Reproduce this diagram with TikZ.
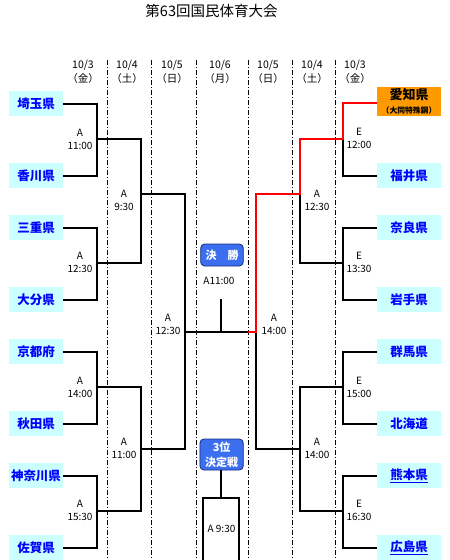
\documentclass[tikz,border=0pt]{standalone}
\usepackage{fontspec}
\setmainfont{Noto Sans CJK JP}
\definecolor{teamcyan}{RGB}{204,255,255}
\definecolor{teamblue}{RGB}{0,0,255}
\definecolor{hostorange}{RGB}{255,153,0}
\definecolor{btnblue}{RGB}{60,110,240}
\definecolor{btnedge}{RGB}{25,45,120}
\definecolor{winred}{RGB}{255,0,0}
\tikzset{
  team/.style={fill=teamcyan, text=teamblue, inner sep=0pt, minimum height=25pt,
    font=\bfseries\fontsize{12.5}{13}\selectfont},
  lteam/.style={team, minimum width=54pt},
  rteam/.style={team, minimum width=64pt},
  wire/.style={line width=2pt, black},
  redwire/.style={line width=2pt, winred},
  sep/.style={line width=0.8pt, dash pattern=on 5pt off 2pt on 1pt off 2pt},
  lbl/.style={align=center, inner sep=0pt, font=\fontsize{10}{13}\selectfont},
  datelbl/.style={align=center, inner sep=0pt, font=\fontsize{10.5}{14}\selectfont},
  btn/.style={fill=btnblue, draw=btnedge, line width=0.8pt, rounded corners=4pt,
    text=white, align=center, inner sep=0pt, font=\bfseries\fontsize{11}{15}\selectfont},
}
\begin{document}
\begin{tikzpicture}[x=1pt,y=-1pt]
\useasboundingbox (0,0) rectangle (450,560);
\clip (0,0) rectangle (450,560);
% title
\node[inner sep=0pt, font=\fontsize{14.5}{16}\selectfont] (title) at (211.5,11) {第63回国民体育大会};
% day separators
\foreach \x in {107,151,196,248,292,335} \draw[sep] (\x,60) -- (\x,562);
% dates
\node[datelbl] (d1) at (83,72) {10/3\\（金）};
\node[datelbl] (d2) at (127,72) {10/4\\（土）};
\node[datelbl] (d3) at (172,72) {10/5\\（日）};
\node[datelbl] (d4) at (220,72) {10/6\\（月）};
\node[datelbl] (d5) at (268,72) {10/5\\（日）};
\node[datelbl] (d6) at (312,72) {10/4\\（土）};
\node[datelbl] (d7) at (355,72) {10/3\\（金）};
% left teams
\node[lteam] (saitama) at (36,103.5) {埼玉県};
\node[lteam] (kagawa) at (36,175.5) {香川県};
\node[lteam] (mie) at (36,227.5) {三重県};
\node[lteam] (oita) at (36,299.5) {大分県};
\node[lteam] (kyoto) at (36,351.5) {京都府};
\node[lteam] (akita) at (36,423.5) {秋田県};
\node[lteam] (kanagawa) at (36,475.5) {神奈川県};
\node[lteam] (saga) at (36,547.5) {佐賀県};
% right teams
\node[fill=hostorange, inner sep=0pt, minimum width=64pt, minimum height=29pt] (aichi) at (409,101.2) {};
\node[inner sep=0pt, font=\bfseries\fontsize{13}{14}\selectfont] (aichiname) at (409,95) {愛知県};
\node[inner sep=0pt, font=\bfseries\fontsize{7.8}{9}\selectfont] (aichisub) at (409,110.5) {（大同特殊鋼）};
\node[rteam] (fukui) at (409,175.5) {福井県};
\node[rteam] (nara) at (409,227.5) {奈良県};
\node[rteam] (iwate) at (409,299.5) {岩手県};
\node[rteam] (gunma) at (409,351.5) {群馬県};
\node[rteam] (hokkaido) at (409,423.5) {北海道};
\node[rteam] (kumamoto) at (409,475.5) {\underline{熊本県}};
\node[rteam] (hiroshima) at (409,547.5) {\underline{広島県}};
% match points
\coordinate (L1) at (97,139);
\coordinate (L2) at (97,263);
\coordinate (L3) at (97,387);
\coordinate (L4) at (97,511);
\coordinate (L5) at (141,194);
\coordinate (L6) at (141,449);
\coordinate (L7) at (185,332);
\coordinate (F) at (248,332);
\coordinate (R1) at (343,139);
\coordinate (R2) at (343,263);
\coordinate (R3) at (343,387);
\coordinate (R4) at (343,511);
\coordinate (R5) at (300,194);
\coordinate (R6) at (300,449);
\coordinate (R7) at (256,332);
\coordinate (A1) at (377,102.7);
% left bracket
\draw[wire] (saitama.east) -| (L1) |- (kagawa.east);
\draw[wire] (mie.east) -| (L2) |- (oita.east);
\draw[wire] (kyoto.east) -| (L3) |- (akita.east);
\draw[wire] (kanagawa.east) -| (L4) |- (saga.east);
\draw[wire] (L1) -| (L5) |- (L2);
\draw[wire] (L3) -| (L6) |- (L4);
\draw[wire] (L5) -| (L7) |- (L6);
\draw[wire] (L7) -- (F);
% right bracket
\draw[wire] (fukui.west) -| (R1);
\draw[wire] (nara.west) -| (R2) |- (iwate.west);
\draw[wire] (gunma.west) -| (R3) |- (hokkaido.west);
\draw[wire] (kumamoto.west) -| (R4) |- (hiroshima.west);
\draw[wire] (R5) |- (R2);
\draw[wire] (R3) -| (R6) |- (R4);
\draw[wire] (R7) |- (R6);
\draw[redwire] (A1) -| (R1) -| (R5) -| (R7) -- (F);
% final
\node[btn, minimum width=42.6pt, minimum height=22pt] (final) at (222,255) {決　勝};
\node[lbl] (finaltime) at (219,280.7) {A11:00};
\coordinate (FS) at (221,299);
\draw[wire] (FS) -- (FS |- F);
% third place
\node[btn, minimum width=43.3pt, minimum height=31pt] (third) at (221.6,454.5) {3位\\決定戦};
\coordinate (T) at (221,498);
\coordinate (T1) at (203,562);
\coordinate (T2) at (239,562);
\draw[wire] (third.south -| T) -- (T);
\draw[wire] (T1) |- (T) -| (T2);
\node[lbl] (thirdtime) at (221.5,528.7) {A 9:30};
% match labels left
\node[lbl] (m1) at (80,139) {A\\11:00};
\node[lbl] (m2) at (80,262.5) {A\\12:30};
\node[lbl] (m3) at (80,387) {A\\14:00};
\node[lbl] (m4) at (80,510) {A\\15:30};
\node[lbl] (m5) at (124,200.5) {A\\9:30};
\node[lbl] (m6) at (124,448.5) {A\\11:00};
\node[lbl] (m7) at (168,324.5) {A\\12:30};
% match labels right
\node[lbl] (n1) at (359,138.5) {E\\12:00};
\node[lbl] (n2) at (359,262.5) {E\\13:30};
\node[lbl] (n3) at (359,387) {E\\15:00};
\node[lbl] (n4) at (359,510) {E\\16:30};
\node[lbl] (n5) at (317,200.5) {A\\12:30};
\node[lbl] (n6) at (317,448.5) {A\\14:00};
\node[lbl] (n7) at (274,324.5) {A\\14:00};
\end{tikzpicture}
\end{document}
